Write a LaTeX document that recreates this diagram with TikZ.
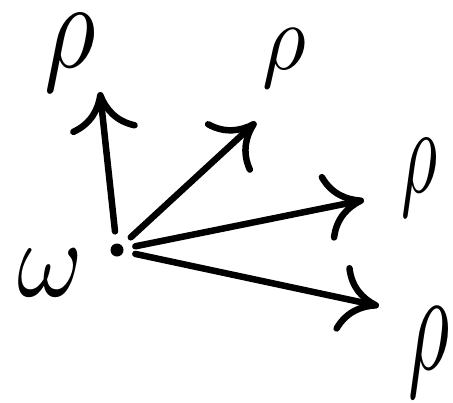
\documentclass[tikz,border=0pt]{standalone}
\usetikzlibrary{arrows.meta}
\begin{document}
\begin{tikzpicture}[x=1bp,y=-1bp,line width=6.5bp,line cap=round,
  arr/.style={-{Computer Modern Rightarrow[length=40bp,width=68bp,line width=6.5bp]},shorten <=9bp},
  lbl/.style={inner sep=0pt}]
\useasboundingbox (0,0) rectangle (453,402);
\node[circle,fill,inner sep=0pt,minimum size=13bp] (w) at (117,250) {};
\node[lbl] (om) at (50,273) {\scalebox{10}[11]{$\omega$}};
\node[lbl] (r1) at (70,53) {\scalebox{10}[12.5]{$\rho$}};
\node[lbl] (r2) at (284,58) {\scalebox{8.5}[9.5]{$\rho$}};
\node[lbl] (r3) at (420,178) {\scalebox{7}[12.5]{$\rho$}};
\node[lbl] (r4) at (429,352) {\scalebox{8}[14.5]{$\rho$}};
\coordinate (t1) at (100,92);
\coordinate (t2) at (256,122);
\coordinate (t3) at (364,200);
\coordinate (t4) at (379,306);
\draw[arr] (w) -- (t1);
\draw[arr] (w) -- (t2);
\draw[arr] (w) -- (t3);
\draw[arr] (w) -- (t4);
\end{tikzpicture}
\end{document}
